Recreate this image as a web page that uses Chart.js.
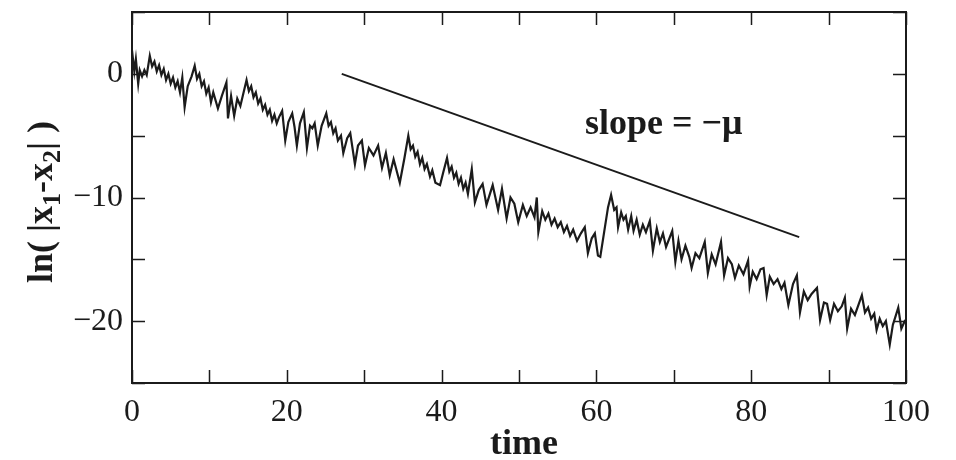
<!DOCTYPE html>
<html>
<head>
<meta charset="utf-8">
<script src="https://cdn.jsdelivr.net/npm/chart.js@4.4.1/dist/chart.umd.min.js"></script>
<style>
  html, body { margin: 0; padding: 0; background: #fff; }
  #wrap { width: 956px; height: 460px; }
</style>
</head>
<body>
<div id="wrap"><canvas id="chart"></canvas></div>
<script>
// ln|x1 - x2| versus time (0-20, 20-40, ...)
const time = [
  0, 0.3, 0.5, 0.8, 1.0, 1.3, 1.6, 1.9, 2.3, 2.6, 2.9, 3.2, 3.5, 3.8, 4.1, 4.4, 4.7, 5.0, 5.3, 5.6,
  5.9, 6.2, 6.5, 6.8, 7.2, 7.7, 8.1, 8.4, 8.7, 9.0, 9.3, 9.6, 9.9, 10.2, 10.5, 11.1, 11.6, 12.2, 12.4, 12.8,
  13.2, 13.6, 14.0, 14.8, 15.1, 15.4, 15.7, 16.0, 16.3, 16.6, 16.9, 17.2, 17.5, 17.8, 18.1, 18.4, 18.7, 19.0, 19.4, 19.8,
  20.2, 20.7, 21.0, 21.3, 21.7, 22.2, 22.6, 23.0, 23.3, 23.6, 24.0, 24.5, 25.1, 25.4, 25.7, 26.0,
  26.3, 26.6, 27.0, 27.3, 27.8, 28.2, 28.8, 29.2, 29.7, 30.1, 30.6, 31.2, 31.8, 32.3, 32.8, 33.3,
  33.8, 34.6, 35.2, 35.7, 36.0, 36.3, 36.6, 36.9, 37.2, 37.5, 37.8, 38.1, 38.5, 38.8, 39.2, 39.8,
  40.2, 40.7, 41.0, 41.3, 41.6, 41.9, 42.2, 42.5, 42.8, 43.1, 43.4, 43.9, 44.3, 44.8, 45.3, 45.8,
  46.6, 47.3, 47.8, 48.4, 48.9, 49.4, 49.9, 50.5, 51.0, 51.5, 52.0, 52.3, 52.5, 53.0, 53.4, 53.8,
  54.2, 54.6, 55.0, 55.4, 55.8, 56.2, 56.6, 57.0, 57.5, 58.0, 58.5, 58.9, 59.4, 59.8, 60.2,
  60.5, 61.0, 61.5, 61.9, 62.3, 62.6, 62.8, 63.2, 63.5, 63.8, 64.1, 64.5, 64.8, 65.2, 65.6,
  66.0, 66.4, 66.9, 67.3, 67.8, 68.2, 68.6, 69.0, 69.8, 70.2, 70.6, 71.0, 71.5, 72.0, 72.3,
  72.8, 73.3, 74.0, 74.4, 74.9, 75.4, 76.1, 76.5, 77.0, 77.5, 77.9, 78.4, 79.0, 79.6, 79.8,
  80.2, 80.7, 81.2, 81.6, 82.0, 82.4, 82.9, 83.4, 83.9, 84.3, 84.8, 85.4, 85.9, 86.3, 86.8,
  87.3, 87.8, 88.5, 88.9, 89.4, 89.8, 90.2, 90.7, 91.2, 91.7, 92.1, 92.4, 92.9, 93.4, 94.3,
  94.7, 95.1, 95.5, 95.9, 96.2, 96.6, 97.0, 97.4, 97.9, 98.3, 99.0, 99.4, 99.9
];
const lnDiff = [
  1.9, 0.2, 1.2, -0.8, 0.3, -0.2, 0.3, -0.1, 1.45, 0.6, 1.0, 0.2, 0.7, -0.1, 0.4, -0.5, 0.0, -0.8, -0.3, -1.1,
  -0.6, -1.5, -0.3, -2.7, -1.0, -0.2, 0.65, -0.4, 0.0, -1.0, -0.6, -1.6, -1.1, -2.3, -1.5, -2.8, -1.8, -0.7, -3.6, -1.8,
  -3.4, -2.0, -2.6, -0.5, -1.4, -1.0, -1.9, -1.5, -2.4, -2.0, -2.9, -2.5, -3.3, -2.9, -3.8, -3.3, -4.0, -3.5, -3.0, -5.4,
  -3.9, -3.2, -4.3, -5.8, -4.0, -3.1, -6.0, -4.2, -4.4, -4.0, -5.8, -4.2, -3.2, -4.2, -3.9, -4.8,
  -4.4, -5.4, -5.0, -6.4, -5.2, -4.8, -7.3, -5.8, -5.4, -7.4, -6.0, -6.6, -5.8, -7.6, -6.4, -8.2,
  -6.9, -8.8, -6.8, -5.0, -6.1, -5.8, -6.7, -6.3, -7.3, -6.8, -7.7, -7.3, -8.3, -7.8, -8.8, -9.0,
  -8.0, -6.8, -7.9, -7.5, -8.4, -8.0, -8.9, -8.4, -9.3, -8.8, -9.7, -7.7, -10.4, -9.4, -8.9, -10.6,
  -9.0, -11.0, -9.3, -11.7, -10.0, -10.5, -12.0, -10.6, -11.5, -10.8, -11.6, -10.0, -12.8, -11.1, -11.8, -11.3,
  -12.2, -11.7, -12.4, -12.0, -12.8, -12.3, -13.1, -12.6, -13.5, -12.9, -12.4, -14.5, -13.3, -12.9, -14.7,
  -14.8, -12.8, -10.8, -9.8, -11.0, -10.8, -12.4, -11.2, -11.8, -11.5, -12.6, -11.5, -12.7, -11.8, -13.0,
  -12.2, -12.8, -11.9, -14.3, -12.5, -13.6, -12.9, -14.0, -12.7, -15.2, -13.5, -15.0, -13.9, -14.8, -15.7,
  -14.5, -14.9, -13.6, -16.1, -14.6, -15.4, -13.6, -16.3, -14.9, -15.4, -16.5, -15.5, -16.2, -15.1, -17.2,
  -16.0, -16.6, -15.8, -15.7, -17.9, -16.4, -17.0, -16.6, -17.4, -16.9, -18.7, -17.0, -16.3, -19.3, -17.6,
  -18.3, -17.8, -17.3, -19.9, -18.5, -18.6, -19.9, -18.6, -19.2, -18.8, -18.1, -20.6, -19.0, -19.5, -17.9,
  -19.3, -18.9, -19.8, -19.4, -20.7, -19.8, -20.4, -20.0, -21.9, -20.3, -18.9, -20.6, -19.9
];

// guide line with slope -mu
const slopeTime = [27.1, 86.2];
const slopeValue = [0, -13.2];

const INK = '#1b1b1b';
const SERIF = '"Liberation Serif", "Times New Roman", serif';

// box round the plot with inward ticks on all four sides, plus the texts
const frame = {
  id: 'frame',
  afterDraw(chart) {
    const { ctx, chartArea: a, scales: { x, y } } = chart;
    const T = 13;
    ctx.save();
    ctx.strokeStyle = INK;
    ctx.lineWidth = 2;
    ctx.strokeRect(a.left, a.top, a.right - a.left, a.bottom - a.top);
    ctx.lineWidth = 1.5;
    ctx.beginPath();
    x.ticks.forEach(t => {
      const px = Math.round(x.getPixelForValue(t.value)) + 0.5;
      ctx.moveTo(px, a.bottom); ctx.lineTo(px, a.bottom - T);
      ctx.moveTo(px, a.top); ctx.lineTo(px, a.top + T);
    });
    y.ticks.forEach(t => {
      const py = Math.round(y.getPixelForValue(t.value)) + 0.5;
      ctx.moveTo(a.left, py); ctx.lineTo(a.left + T, py);
      ctx.moveTo(a.right, py); ctx.lineTo(a.right - T, py);
    });
    ctx.stroke();

    ctx.fillStyle = INK;
    ctx.textBaseline = 'alphabetic';

    // x title
    ctx.font = 'bold 36px ' + SERIF;
    ctx.textAlign = 'center';
    ctx.fillText('time', (a.left + a.right) / 2 + 5, 454);

    // slope label
    ctx.textAlign = 'left';
    ctx.fillText('slope = \u2212\u03bc', 585, 134);

    // y title with subscripts, rotated
    const parts = [['ln( |x', false], ['1', true], ['-x', false], ['2', true], ['| )', false]];
    const big = 'bold 36px ' + SERIF, small = 'bold 26px ' + SERIF;
    let w = 0;
    parts.forEach(([s, sub]) => { ctx.font = sub ? small : big; w += ctx.measureText(s).width; });
    ctx.translate(42, 202);
    ctx.rotate(-Math.PI / 2);
    let cx = -w / 2;
    parts.forEach(([s, sub]) => {
      ctx.font = sub ? small : big;
      ctx.fillText(s, cx, sub ? 18 : 10);
      cx += ctx.measureText(s).width;
    });
    ctx.restore();
  }
};

new Chart(document.getElementById('chart'), {
  type: 'line',
  data: {
    datasets: [
      {
        data: time.map((t, i) => ({ x: t, y: lnDiff[i] })),
        borderColor: INK,
        borderWidth: 2.2,
        pointRadius: 0,
        tension: 0,
      },
      {
        data: slopeTime.map((t, i) => ({ x: t, y: slopeValue[i] })),
        borderColor: INK,
        borderWidth: 2,
        pointRadius: 0,
      },
    ],
  },
  options: {
    responsive: true,
    maintainAspectRatio: false,
    animation: false,
    layout: { padding: { top: 12, right: 50, left: 0, bottom: 0 } },
    plugins: { legend: { display: false }, tooltip: { enabled: false } },
    scales: {
      x: {
        type: 'linear',
        min: 0,
        max: 100,
        grid: { display: false, drawTicks: false },
        border: { display: false },
        ticks: {
          stepSize: 10,
          padding: 10,
          color: INK,
          maxRotation: 0,
          autoSkip: false,
          font: { family: SERIF, size: 32 },
          callback: (v) => (v % 20 === 0 ? String(v) : ''),
        },
        afterFit: (s) => { s.height = 77; s.paddingLeft = 0; s.paddingRight = 0; },
      },
      y: {
        min: -25,
        max: 5,
        grid: { display: false, drawTicks: false },
        border: { display: false },
        ticks: {
          stepSize: 5,
          padding: 9,
          color: INK,
          autoSkip: false,
          font: { family: SERIF, size: 32 },
          callback: (v) => (v % 10 === 0 ? (v < 0 ? '\u2212' + (-v) : String(v)) : ''),
        },
        afterFit: (s) => { s.width = 132; s.paddingTop = 0; s.paddingBottom = 0; },
      },
    },
  },
  plugins: [frame],
});
</script>
</body>
</html>
